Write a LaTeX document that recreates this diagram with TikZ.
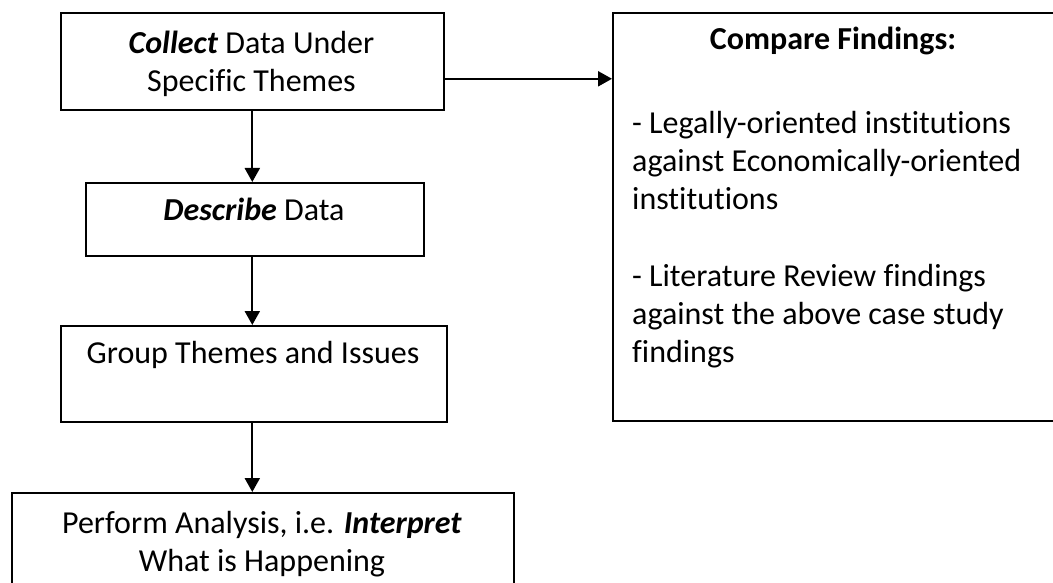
\documentclass[tikz,border=0pt]{standalone}
\usepackage{fontspec}
\setmainfont{Carlito}[Ligatures=NoCommon]
\usetikzlibrary{arrows.meta, positioning}

\tikzset{
  box/.style={draw, line width=1.6pt, inner sep=0pt, anchor=north west},
  txt/.style={align=center, inner sep=0pt, anchor=base, font=\fontsize{32}{38}\selectfont},
  ltxt/.style={txt, align=left, anchor=base west},
  arr/.style={line width=2.2pt, -{Triangle[length=14pt, width=15pt]}}
}

\begin{document}
\begin{tikzpicture}[x=1pt, y=-1pt]
  \clip (0,0) rectangle (1053,583);
  % boxes
  \node[box, minimum width=383pt, minimum height=97pt] (collect) at (60,12) {};
  \node[box, minimum width=338pt, minimum height=73pt] (describe) at (85,182) {};
  \node[box, minimum width=386pt, minimum height=96pt] (group) at (60,325) {};
  \node[box, minimum width=502pt, minimum height=110pt] (perform) at (11,492) {};
  \node[box, minimum width=442pt, minimum height=408pt] (compare) at (612,12) {};
  % texts (base = last line)
  \node[txt] (collect text) at (251.5,92) {\textbf{\textit{Collect}} Data Under\\Specific Themes};
  \node[txt] (describe text) at (254,220) {\textbf{\textit{Describe}} Data};
  \node[txt] (group text) at (253,363) {Group Themes and Issues};
  \node[txt] (perform text) at (262,571) {Perform Analysis, i.e. \textbf{\textit{Interpret}}\\What is Happening};
  \node[txt] (compare head) at (833,50) {\textbf{Compare Findings:}};
  \node[ltxt] (compare one) at (632,209) {- Legally-oriented institutions\\against Economically-oriented\\institutions};
  \node[ltxt] (compare two) at (632,362) {- Literature Review findings\\against the above case study\\findings};
  % arrows
  \draw[arr] (collect.south) -- (collect.south |- describe.north);
  \draw[arr] (describe.south -| collect.south) -- (collect.south |- group.north);
  \draw[arr] (group.south -| collect.south) -- (collect.south |- perform.north);
  \draw[arr] ([yshift=-17.5pt]collect.east) -- ([yshift=-17.5pt]collect.east -| compare.west);
\end{tikzpicture}
\end{document}
